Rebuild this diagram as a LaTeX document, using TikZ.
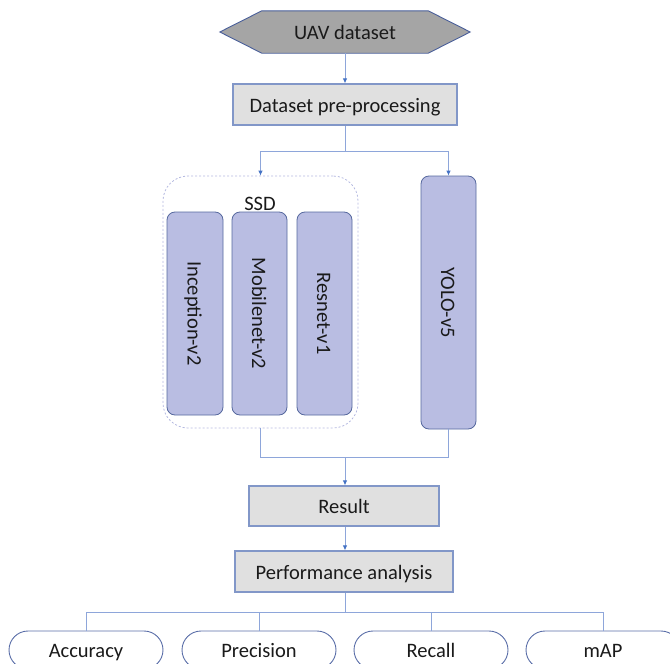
\documentclass[tikz,border=0pt]{standalone}
\usepackage{fontspec}
\setmainfont{Carlito}
\usetikzlibrary{arrows.meta,shapes.misc}
\definecolor{hexfill}{HTML}{A5A5A5}
\definecolor{hexline}{HTML}{4A5F9A}
\definecolor{boxfill}{HTML}{E0E0E0}
\definecolor{boxline}{HTML}{8297C8}
\definecolor{netfill}{HTML}{B9BDE2}
\definecolor{netline}{HTML}{56689E}
\definecolor{grpline}{HTML}{B4B9E0}
\definecolor{connline}{HTML}{8EA6DA}
\definecolor{tipcol}{HTML}{4472C4}
\definecolor{ovalline}{HTML}{5A6EA8}
\definecolor{txt}{HTML}{1A1A1A}
\begin{document}
\begin{tikzpicture}[x=1pt,y=-1pt,
  every node/.style={font=\fontsize{20.5}{24}\selectfont, text=txt, inner sep=0pt,
    text height=17pt, text depth=2pt},
  procbox/.style={draw=boxline, fill=boxfill, line width=1.1pt},
  netbox/.style={draw=netline, fill=netfill, line width=0.8pt, rounded corners=8pt, rotate=-90},
  group/.style={draw=grpline, dashed, dash pattern=on 2pt off 2pt, line width=0.8pt, rounded corners=25pt},
  metric/.style={draw=ovalline, fill=white, line width=0.9pt, rounded rectangle, minimum width=154pt, minimum height=38pt},
  conn/.style={draw=connline, line width=0.9pt},
  arr/.style={conn, -{Latex[length=5pt,width=4.5pt,color=tipcol]}}
]
\useasboundingbox (0,0) rectangle (670,664);
\clip (0,0) rectangle (670,664);

% input hexagon
\node (uav) [minimum width=250pt, minimum height=42pt] at (345,32) {};
\fill[hexfill, draw=hexline, line width=0.9pt]
  (uav.west) -- ([xshift=42pt]uav.north west) -- ([xshift=-42pt]uav.north east)
  -- (uav.east) -- ([xshift=-42pt]uav.south east) -- ([xshift=42pt]uav.south west) -- cycle;
\node at (uav.center) {UAV dataset};

% pre-processing
\node (pre) [procbox, minimum width=224pt, minimum height=41pt] at (345,104.5) {Dataset pre-processing};

% SSD group with its three backbones (rotated: west = top, east = bottom)
\node (ssd) [group, minimum width=195pt, minimum height=252pt] at (260.5,302) {};
\node (ssdlbl) at (260,203) {SSD};
\node (incep) [netbox, minimum width=203pt, minimum height=56pt] at (195,313.5) {Inception-v2};
\node (mobile) [netbox, minimum width=203pt, minimum height=55pt] at (259.5,313.5) {Mobilenet-v2};
\node (resnet) [netbox, minimum width=203pt, minimum height=55pt] at (324.5,313.5) {Resnet-v1};

% YOLO branch
\node (yolo) [netbox, minimum width=253pt, minimum height=55pt] at (448.5,302.5) {YOLO-v5};

% result and analysis
\node (result) [procbox, minimum width=190pt, minimum height=40pt] at (344,506) {Result};
\node (perf) [procbox, minimum width=218pt, minimum height=41pt] at (344,571.5) {Performance analysis};

% metrics
\node (acc) [metric] at (86,650) {Accuracy};
\node (prec) [metric] at (259,650) {Precision};
\node (rec) [metric] at (431,650) {Recall};
\node (map) [metric] at (603,650) {mAP};

% branching points
\coordinate (split) at (345,151);
\coordinate (merge) at (345,457);
\coordinate (fan) at (345,612);

% connectors
\draw[arr] (uav.south) -- (pre.north);
\draw[conn] (pre.south) -- (split);
\draw[arr] (split) -| (ssd.north);
\draw[arr] (split) -| (yolo.west);
\draw[conn] (ssd.south) |- (merge);
\draw[conn] (yolo.east) |- (merge);
\draw[arr] (merge) -- (merge |- result.north);
\draw[arr] (result.south -| merge) -- (merge |- perf.north);
\draw[conn] (perf.south -| fan) -- (fan);
\draw[conn] (fan) -| (acc.north);
\draw[conn] (fan) -| (prec.north);
\draw[conn] (fan) -| (rec.north);
\draw[conn] (fan) -| (map.north);
\end{tikzpicture}
\end{document}
